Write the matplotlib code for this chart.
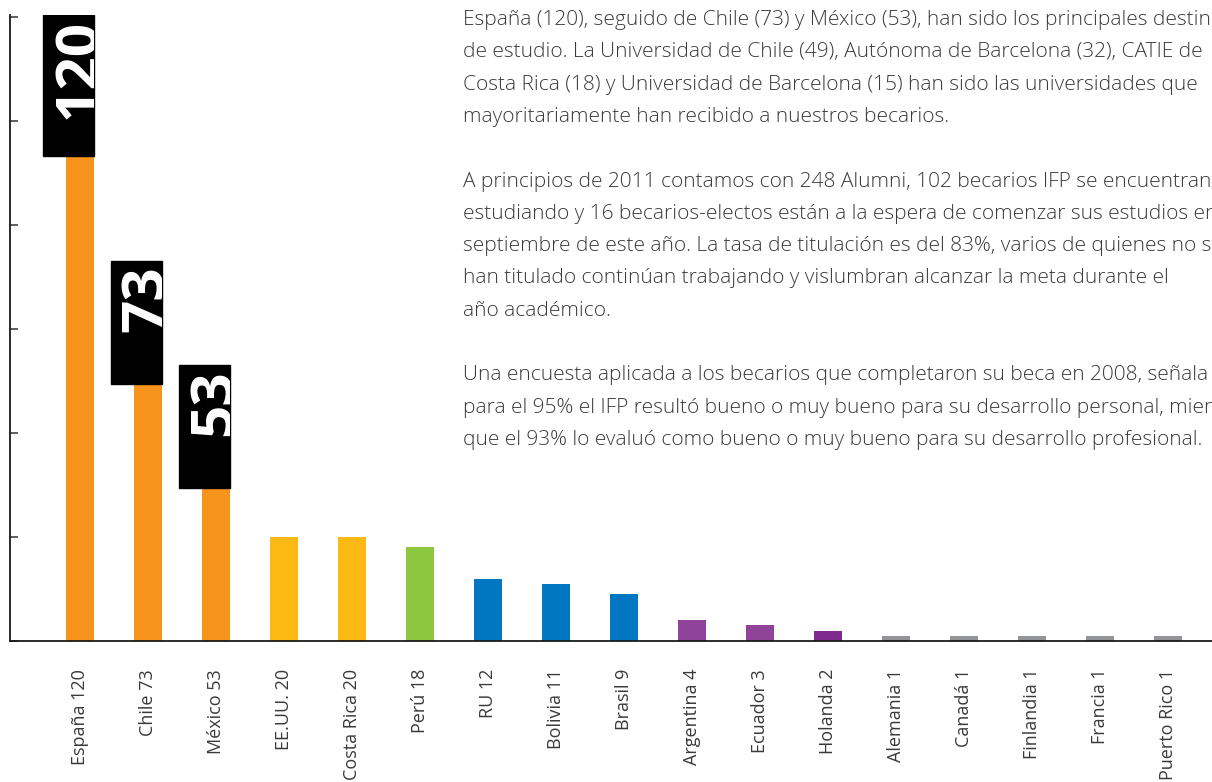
import matplotlib
matplotlib.use("Agg")
import matplotlib.pyplot as plt
from matplotlib.patches import Rectangle

countries = ["España", "Chile", "México", "EE.UU.", "Costa Rica", "Perú", "RU", "Bolivia",
             "Brasil", "Argentina", "Ecuador", "Holanda", "Alemania", "Canadá", "Finlandia",
             "Francia", "Puerto Rico"]
values = [120, 73, 53, 20, 20, 18, 12, 11, 9, 4, 3, 2, 1, 1, 1, 1, 1]
colors = ["#F7941D", "#F7941D", "#F7941D", "#FDB913", "#FDB913", "#8DC63F", "#0077C0",
          "#0077C0", "#0077C0", "#8F4399", "#8F4399", "#7E2A8E", "#939598", "#939598",
          "#939598", "#939598", "#939598"]
highlight = [0, 1, 2]
yticks = [0, 20, 40, 60, 80, 100, 120]

paragraph_lines = [
    "España (120), seguido de Chile (73) y México (53), han sido los principales destinos",
    "de estudio. La Universidad de Chile (49), Autónoma de Barcelona (32), CATIE de",
    "Costa Rica (18) y Universidad de Barcelona (15) han sido las universidades que",
    "mayoritariamente han recibido a nuestros becarios.",
    "",
    "A principios de 2011 contamos con 248 Alumni, 102 becarios IFP se encuentran",
    "estudiando y 16 becarios-electos están a la espera de comenzar sus estudios en",
    "septiembre de este año. La tasa de titulación es del 83%, varios de quienes no se",
    "han titulado continúan trabajando y vislumbran alcanzar la meta durante el",
    "año académico.",
    "",
    "Una encuesta aplicada a los becarios que completaron su beca en 2008, señala que",
    "para el 95% el IFP resultó bueno o muy bueno para su desarrollo personal, mientras",
    "que el 93% lo evaluó como bueno o muy bueno para su desarrollo profesional.",
]

W, H = 1212, 782
fig = plt.figure(figsize=(W / 100, H / 100), dpi=100)
ax = fig.add_axes([10 / W, 1 - 641 / H, (W - 10) / W, 626 / H])

x = list(range(len(countries)))
bw = 0.4
ax.bar(x, values, width=bw, color=colors, zorder=2)
ax.set_xlim(-1.029, 16.647)
ax.set_ylim(0, 120.4)

for s in ["top", "right"]:
    ax.spines[s].set_visible(False)
for s in ["left", "bottom"]:
    ax.spines[s].set_linewidth(1.3)
    ax.spines[s].set_color("#1a1a1a")

ax.set_yticks(yticks)
ax.set_yticklabels([])
ax.tick_params(axis="y", direction="in", length=6, width=1.1, color="#333333")
ax.set_xticks(x)
ax.set_xticklabels([f"{c} {v}" for c, v in zip(countries, values)], rotation=90,
                   fontsize=13, color="#3a3a3a", family="Open Sans")
ax.tick_params(axis="x", length=0, pad=20)

for i in highlight:
    v = values[i]
    nd = len(str(v))
    right = i + bw / 2
    left = right - 0.75
    h = 16.6 + 3.5 * nd
    top = v + (0.4 if nd == 3 else 0.1)
    rect = Rectangle((left, top - h), right - left, h, color="black", zorder=3)
    ax.add_patch(rect)
    t = ax.annotate(str(v), xy=(right, top), xytext=(1, -3), textcoords="offset points",
                    rotation=90, rotation_mode="anchor", ha="right", va="baseline",
                    color="white", fontsize=42, fontweight="bold", family="Open Sans",
                    zorder=4, annotation_clip=False)
    t.set_clip_path(rect)

line_h = 32.3
for k, line in enumerate(paragraph_lines):
    if not line:
        continue
    yp = 20 + k * line_h
    fig.text(463 / W, 1 - yp / H, line, ha="left", va="center", fontsize=15,
             family="Open Sans", fontweight="light", color="#3a3a3a")

fig.savefig("out.png", dpi=100)
